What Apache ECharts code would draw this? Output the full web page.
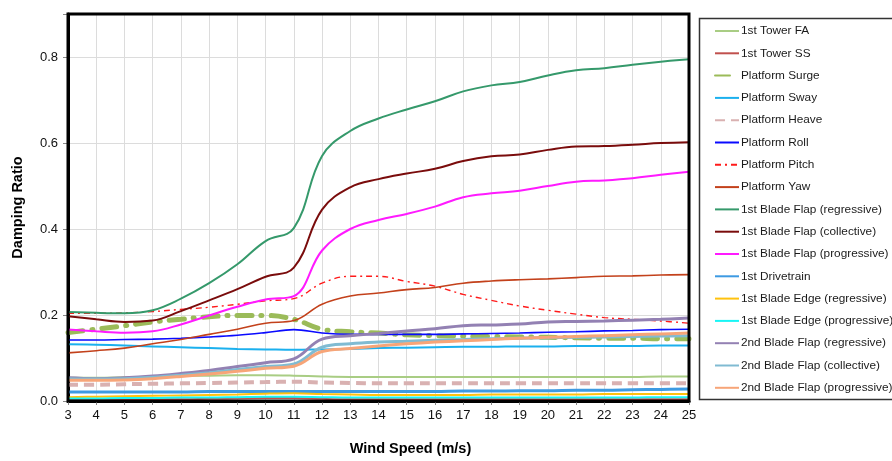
<!DOCTYPE html>
<html>
<head>
<meta charset="utf-8">
<script src="https://cdn.jsdelivr.net/npm/echarts@6/dist/echarts.min.js"></script>
<style>
  html, body { margin: 0; padding: 0; background: #fff; }
  #chart { width: 892px; height: 461px; }
</style>
</head>
<body>
<div id="chart"></div>
<script>
// Wind speeds (m/s) at which the modal damping ratios were evaluated
const windSpeed = [3,4,5,6,7,8,9,10,11,12,13,14,15,16,17,18,19,20,21,22,23,24,25];

// Damping ratio of each mode
const tower1FA      = [0.054,0.054,0.055,0.056,0.058,0.059,0.060,0.060,0.059,0.057,0.056,0.056,0.056,0.056,0.056,0.056,0.056,0.056,0.056,0.056,0.056,0.057,0.057];
const tower1SS      = [0.003,0.003,0.003,0.004,0.004,0.005,0.006,0.007,0.007,0.005,0.004,0.004,0.004,0.004,0.004,0.004,0.004,0.004,0.004,0.004,0.004,0.004,0.004];
const platformSurge = [0.159,0.167,0.175,0.184,0.190,0.196,0.199,0.199,0.190,0.167,0.161,0.158,0.154,0.152,0.151,0.150,0.149,0.148,0.147,0.146,0.146,0.145,0.145];
const platformSway  = [0.132,0.131,0.129,0.127,0.125,0.123,0.121,0.120,0.119,0.120,0.121,0.123,0.124,0.125,0.126,0.126,0.127,0.127,0.128,0.128,0.128,0.129,0.129];
const platformHeave = [0.038,0.038,0.039,0.040,0.041,0.042,0.043,0.044,0.045,0.043,0.042,0.041,0.041,0.041,0.041,0.041,0.041,0.041,0.041,0.041,0.041,0.041,0.041];
const platformRoll  = [0.142,0.142,0.143,0.144,0.146,0.149,0.153,0.159,0.166,0.158,0.155,0.155,0.155,0.155,0.156,0.157,0.158,0.160,0.161,0.163,0.164,0.166,0.167];
const platformPitch = [0.204,0.204,0.205,0.208,0.213,0.218,0.225,0.233,0.238,0.274,0.290,0.290,0.278,0.267,0.248,0.234,0.221,0.211,0.202,0.194,0.190,0.186,0.181];
const platformYaw   = [0.112,0.117,0.123,0.133,0.143,0.155,0.167,0.181,0.187,0.225,0.244,0.251,0.259,0.264,0.274,0.279,0.282,0.284,0.287,0.290,0.291,0.293,0.294];
const blade1FlapReg  = [0.207,0.205,0.204,0.211,0.238,0.274,0.318,0.372,0.402,0.570,0.628,0.657,0.678,0.697,0.720,0.734,0.742,0.757,0.769,0.774,0.782,0.789,0.795];
const blade1FlapColl = [0.197,0.190,0.184,0.187,0.209,0.234,0.260,0.289,0.310,0.445,0.497,0.516,0.529,0.540,0.558,0.569,0.573,0.584,0.592,0.593,0.596,0.600,0.602];
const blade1FlapProg = [0.166,0.162,0.159,0.162,0.178,0.199,0.219,0.236,0.244,0.350,0.400,0.421,0.435,0.452,0.474,0.483,0.489,0.500,0.510,0.513,0.518,0.526,0.533];
const drivetrain1    = [0.021,0.021,0.021,0.021,0.021,0.022,0.022,0.022,0.022,0.022,0.022,0.022,0.022,0.022,0.023,0.023,0.024,0.024,0.025,0.025,0.026,0.027,0.028];
const blade1EdgeReg  = [0.009,0.010,0.011,0.012,0.013,0.014,0.015,0.017,0.018,0.016,0.015,0.014,0.014,0.014,0.014,0.015,0.015,0.015,0.015,0.016,0.016,0.016,0.016];
const blade1EdgeProg = [0.006,0.006,0.007,0.007,0.008,0.008,0.009,0.010,0.010,0.009,0.008,0.008,0.008,0.008,0.008,0.008,0.008,0.008,0.008,0.008,0.008,0.009,0.009];
const blade2FlapReg  = [0.054,0.052,0.054,0.058,0.064,0.071,0.080,0.089,0.098,0.144,0.152,0.157,0.163,0.168,0.175,0.177,0.179,0.184,0.185,0.186,0.188,0.190,0.193];
const blade2FlapColl = [0.052,0.051,0.052,0.055,0.060,0.066,0.073,0.080,0.086,0.125,0.133,0.137,0.139,0.141,0.143,0.145,0.146,0.147,0.148,0.149,0.150,0.151,0.152];
const blade2FlapProg = [0.048,0.048,0.049,0.052,0.057,0.063,0.069,0.076,0.081,0.115,0.122,0.128,0.133,0.137,0.140,0.143,0.146,0.148,0.150,0.152,0.154,0.156,0.158];

const FONT = 'Liberation Sans, Arial, sans-serif';

function pairs(values) {
  return windSpeed.map((w, i) => [w, values[i]]);
}

function mode(name, values, color, width, dash, cap) {
  return {
    name: name,
    type: 'line',
    data: pairs(values),
    smooth: 0.4,
    symbol: 'none',
    showSymbol: false,
    color: color,
    itemStyle: { color: color },
    lineStyle: { color: color, width: width, type: dash || 'solid', cap: cap || 'butt' },
    emphasis: { disabled: true },
    z: 2
  };
}

const series = [
  mode('1st Tower FA', tower1FA, '#a9cd84', 2),
  mode('1st Tower SS', tower1SS, '#c0504d', 2),
  mode('Platform Surge', platformSurge, '#9bbb59', 5, [15, 9, 1, 9], 'round'),
  mode('Platform Sway', platformSway, '#1bb0ee', 2),
  mode('Platform Heave', platformHeave, '#d9b1b1', 4, [10, 6]),
  mode('Platform Roll', platformRoll, '#0a0aff', 1.6),
  mode('Platform Pitch', platformPitch, '#ff1a1a', 1.4, [6, 4, 2, 4]),
  mode('Platform Yaw', platformYaw, '#c3411b', 1.6),
  mode('1st Blade Flap (regressive)', blade1FlapReg, '#35996b', 2),
  mode('1st Blade Flap (collective)', blade1FlapColl, '#7a0c0c', 2),
  mode('1st Blade Flap (progressive)', blade1FlapProg, '#ff1aff', 2),
  mode('1st Drivetrain', drivetrain1, '#3d9ae2', 3),
  mode('1st Blade Edge (regressive)', blade1EdgeReg, '#ffc20e', 2),
  mode('1st Blade Edge (progressive)', blade1EdgeProg, '#19f5f5', 2),
  mode('2nd Blade Flap (regressive)', blade2FlapReg, '#9381b3', 3),
  mode('2nd Blade Flap (collective)', blade2FlapColl, '#80bbd2', 3),
  mode('2nd Blade Flap (progressive)', blade2FlapProg, '#f7a578', 3)
];

const chart = echarts.init(document.getElementById('chart'), null, { renderer: 'canvas' });

chart.setOption({
  animation: false,
  backgroundColor: '#ffffff',
  textStyle: { fontFamily: FONT },
  grid: {
    left: 68, top: 14, right: 203, bottom: 55,
    show: true, borderColor: '#000', borderWidth: 3, z: 3
  },
  xAxis: {
    type: 'value',
    min: 3, max: 25, interval: 1,
    name: 'Wind Speed (m/s)',
    nameLocation: 'middle',
    nameGap: 40,
    nameTextStyle: { fontFamily: FONT, fontSize: 14.5, fontWeight: 'bold', color: '#000', padding: [0, 0, 0, 64] },
    axisLine: { show: true, lineStyle: { color: '#000', width: 3 } },
    axisTick: { show: true, length: 4, lineStyle: { color: '#888' } },
    axisLabel: { fontFamily: FONT, fontSize: 13, color: '#111', margin: 8 },
    splitLine: { show: true, lineStyle: { color: '#dcdcdc', width: 1 } }
  },
  yAxis: {
    type: 'value',
    min: 0, max: 0.9, interval: 0.2,
    name: 'Damping Ratio',
    nameLocation: 'middle',
    nameRotate: 90,
    nameGap: 43,
    nameTextStyle: { fontFamily: FONT, fontSize: 14.5, fontWeight: 'bold', color: '#000' },
    axisLine: { show: true, lineStyle: { color: '#000', width: 3 } },
    axisTick: { show: true, length: 5, lineStyle: { color: '#888' } },
    axisLabel: {
      fontFamily: FONT, fontSize: 13, color: '#111', margin: 10,
      formatter: v => (Math.abs(v - 0.9) < 1e-6 ? '' : v.toFixed(1))
    },
    splitLine: { show: true, lineStyle: { color: '#dcdcdc', width: 1 } }
  },
  legend: {
    orient: 'vertical',
    left: 714, top: 25,
    padding: 0,
    itemWidth: 24, itemHeight: 14, itemGap: 8.3 + 2,
    itemStyle: { opacity: 0 },
    textStyle: { fontFamily: FONT, fontSize: 11.8, color: '#1a1a1a', padding: [0, 0, 0, -3] },
    data: series.map(s => s.name)
  },
  graphic: [{
    type: 'rect',
    shape: { x: 699.5, y: 18.5, width: 260, height: 381 },
    style: { fill: 'none', stroke: '#333', lineWidth: 1.5 },
    z: -1
  }],
  series: series
});
</script>
</body>
</html>
